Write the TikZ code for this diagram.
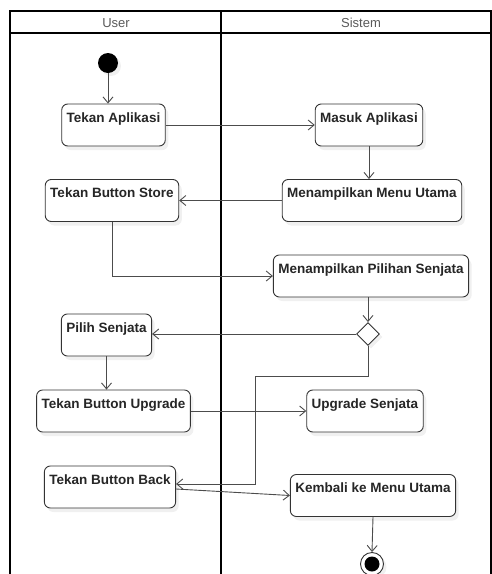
\documentclass[tikz,border=0pt]{standalone}
\usepackage{fontspec}
\setmainfont{Liberation Sans}
\usetikzlibrary{arrows.meta,shapes.geometric,shadows}

\begin{document}
\begin{tikzpicture}[x=1pt,y=-1pt,
		activity/.style={draw=black!80, rounded corners=6pt, fill=white, line width=0.9pt, inner xsep=5pt, inner ysep=3pt, text height=15pt, text depth=21pt, font=\fontsize{13.5}{16}\selectfont\bfseries, text=black!85, drop shadow={opacity=0.12, shadow xshift=3pt, shadow yshift=-4pt}},
		flow/.style={draw=black!70, line width=0.9pt, -{Straight Barb[length=6pt,width=10pt]}},
		lane/.style={line width=1.5pt},
		title/.style={font=\fontsize{13}{15}\selectfont, text=black!65}]
		\useasboundingbox (0,0) rectangle (492,574);
		% swimlanes
		\draw[lane] (10,574) |- (491,11) -- (491,574);
		\draw[lane] (10,33) -- (491,33);
		\draw[lane] (221,11) -- (221,574);
		\node[title] (user) at (116,23) {User};
		\node[title] (sistem) at (361,23) {Sistem};
		% activities
		\node[circle, fill=black, minimum size=20pt, inner sep=0pt, drop shadow={opacity=0.12, shadow xshift=3pt, shadow yshift=-3pt}] (start) at (108,63) {};
		\node[activity] (aplikasi) at (113.5,125) {Tekan Aplikasi};
		\node[activity] (masuk) at (369,125) {Masuk Aplikasi};
		\node[activity] (menu) at (372,200.5) {Menampilkan Menu Utama};
		\node[activity] (store) at (112,200.5) {Tekan Button Store};
		\node[activity] (pilihan) at (371,276) {Menampilkan Pilihan Senjata};
		\node[diamond, draw=black!80, fill=white, line width=0.9pt, minimum size=23pt, inner sep=0pt, drop shadow={opacity=0.12, shadow xshift=3pt, shadow yshift=-3pt}] (decision) at (368,334) {};
		\node[activity] (pilih) at (106.5,335) {Pilih Senjata};
		\node[activity] (tombolupgrade) at (113.5,411) {Tekan Button Upgrade};
		\node[activity] (upgrade) at (365,411) {Upgrade Senjata};
		\node[activity] (back) at (110,487) {Tekan Button Back};
		\node[activity] (kembali) at (373,495.5) {Kembali ke Menu Utama};
		\node[circle, draw=black!80, fill=white, line width=0.9pt, minimum size=23pt, inner sep=0pt, drop shadow={opacity=0.12, shadow xshift=3pt, shadow yshift=-3pt}] (end) at (372,564) {};
		\node[circle, fill=black, minimum size=15pt, inner sep=0pt] (endcore) at (end.center) {};
		% flows
		\draw[flow] (start) -- (start |- aplikasi.north);
		\draw[flow] (aplikasi.east) -- (masuk.west);
		\draw[flow] (masuk.south) -- (masuk.south |- menu.north);
		\draw[flow] (menu.west) -- (store.east);
		\draw[flow] (store.south) |- (pilihan.west);
		\draw[flow] (decision.north |- pilihan.south) -- (decision.north);
		\draw[flow] (decision.west) -- (decision.west -| pilih.east);
		\draw[flow] (pilih.south) -- (pilih.south |- tombolupgrade.north);
		\draw[flow] (tombolupgrade.east) -- (tombolupgrade.east -| upgrade.west);
		\draw[flow] (decision.south) -- ++(0,30) -| ([xshift=79pt,yshift=3pt]back.east) -- ([yshift=3pt]back.east);
		\draw[flow] ([yshift=-2pt]back.east) -- (kembali.west);
		\draw[flow] (kembali.south) -- (end.north);
	\end{tikzpicture}
\end{document}
